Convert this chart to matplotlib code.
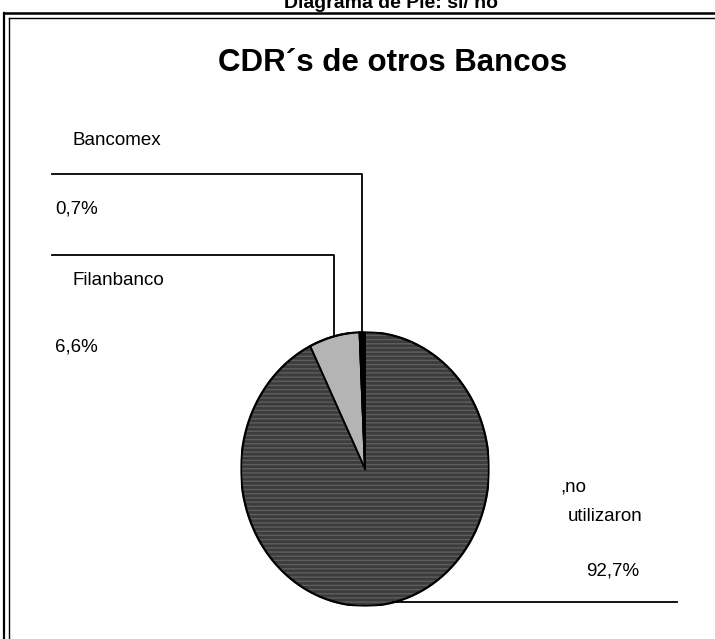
import numpy as np
import matplotlib
matplotlib.use("Agg")
import matplotlib.pyplot as plt
import matplotlib.transforms as mtransforms
from matplotlib.lines import Line2D

# datos
labels = ["Bancomex", "Filanbanco", ",no\nutilizaron"]
pct_text = ["0,7%", "6,6%", "92,7%"]
values = [0.7, 6.6, 92.7]
colors = ["#000000", "#b4b4b4", "#3c3c3c"]

W, H = 715, 639
fig = plt.figure(figsize=(W / 100, H / 100), dpi=100)
plt.rcParams['font.family'] = ['Liberation Sans', 'DejaVu Sans']

# transform en pixeles con origen arriba a la izquierda
px = mtransforms.Affine2D().scale(1 / W, -1 / H).translate(0, 1) + fig.transFigure

# marco doble
fig.add_artist(Line2D([4, 4], [13, H], transform=px, color="black", lw=1.6))
fig.add_artist(Line2D([9, 9], [18, H], transform=px, color="black", lw=1.0))
fig.add_artist(Line2D([4, W], [13, 13], transform=px, color="black", lw=1.8))
fig.add_artist(Line2D([9, W], [18, 18], transform=px, color="black", lw=1.0))

fig.text(391, 8, "Diagrama de Pie: si/ no", transform=px, ha="center",
         va="baseline", fontsize=14, fontweight="bold")
fig.text(393, 71, "CDR´s de otros Bancos", transform=px, ha="center",
         va="baseline", fontsize=22.5, fontweight="bold")

# pie (ligeramente elíptico como en el original)
cx, cy, rx, ry = 365, 469, 124, 137
ax = fig.add_axes([(cx - rx) / W, 1 - (cy + ry) / H, 2 * rx / W, 2 * ry / H])
wedges, _ = ax.pie(values, colors=colors, startangle=90, counterclock=True,
                   wedgeprops=dict(edgecolor="black", linewidth=1.3))
wedges[2].set_hatch("----")
wedges[2].set_edgecolor("#5e5e5e")
ax.set_aspect("auto")
ax.set_xlim(-1, 1)
ax.set_ylim(-1, 1)
# borde negro de la tarta
ang = np.linspace(0, 2 * np.pi, 400)
ax.plot(np.cos(ang), np.sin(ang), color="black", lw=1.6)
for w in wedges[:2]:
    for t in (w.theta1, w.theta2):
        ax.plot([0, np.cos(np.radians(t))], [0, np.sin(np.radians(t))],
                color="black", lw=1.4)

# lineas guia desde el angulo medio de cada porcion
def edge_px(theta):
    x = cx + rx * np.cos(np.radians(theta))
    y = cy - ry * np.sin(np.radians(theta))
    return x, y

mids = [(w.theta1 + w.theta2) / 2 for w in wedges]
guide_y = [174, 255]
for m, gy in zip(mids[:2], guide_y):
    x0, y0 = edge_px(m)
    fig.add_artist(Line2D([x0, x0, 52], [y0, gy, gy], transform=px,
                          color="black", lw=1.3))
x0, y0 = edge_px(mids[2])
fig.add_artist(Line2D([x0, 677], [y0, y0], transform=px, color="black", lw=1.3))

fs = 13.5
fig.text(72, 145, labels[0], transform=px, ha="left", va="baseline", fontsize=fs)
fig.text(55, 214, pct_text[0], transform=px, ha="left", va="baseline", fontsize=fs)
fig.text(72, 285, labels[1], transform=px, ha="left", va="baseline", fontsize=fs)
fig.text(55, 352, pct_text[1], transform=px, ha="left", va="baseline", fontsize=fs)
fig.text(560, 491, ",no", transform=px, ha="left", va="baseline", fontsize=fs)
fig.text(568, 521, "utilizaron", transform=px, ha="left", va="baseline", fontsize=fs)
fig.text(586, 576, pct_text[2], transform=px, ha="left", va="baseline", fontsize=fs)

fig.savefig("out.png", dpi=100)
